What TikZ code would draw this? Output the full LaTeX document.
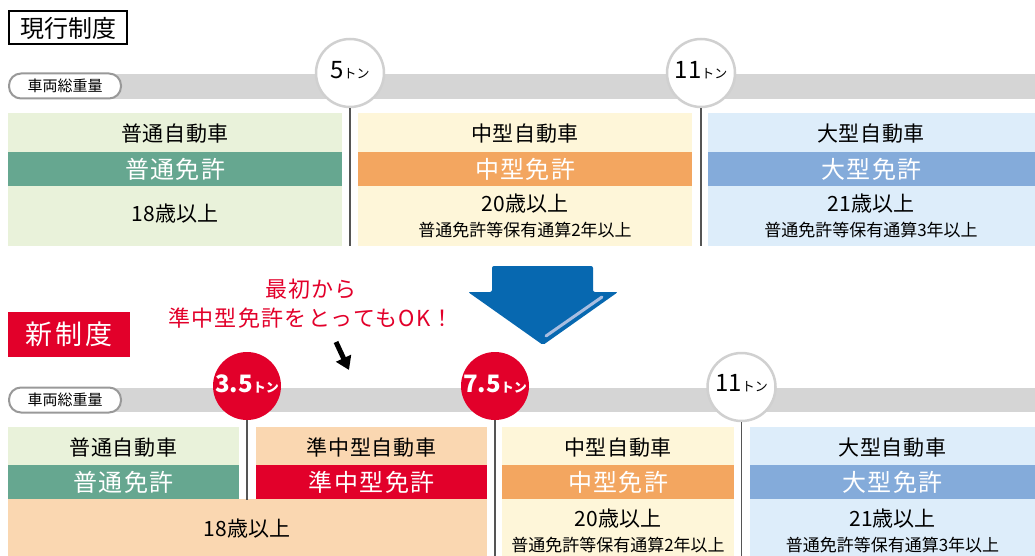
\documentclass[tikz,border=0pt]{standalone}
\usepackage{fontspec}
\setmainfont{Noto Sans CJK JP}
\usetikzlibrary{positioning,arrows.meta}

\definecolor{futsuback}{HTML}{E9F2DA}
\definecolor{futsuband}{HTML}{66A790}
\definecolor{chuback}{HTML}{FEF6D9}
\definecolor{chuband}{HTML}{F3A660}
\definecolor{daiback}{HTML}{DDEDFA}
\definecolor{daiband}{HTML}{84ABDA}
\definecolor{junback}{HTML}{FAD7B1}
\definecolor{shinred}{HTML}{E2002A}
\definecolor{bargray}{HTML}{D5D5D5}
\definecolor{ringgray}{HTML}{D0D0D0}
\definecolor{pillgray}{HTML}{999999}
\definecolor{polegray}{HTML}{555555}
\definecolor{arrowblue}{HTML}{0768B0}
\definecolor{glint}{HTML}{A8BDE0}

\tikzset{
	blk/.style={rectangle, inner sep=0, anchor=north west},
	head/.style={font=\fontsize{21}{21}\selectfont\addfontfeature{LetterSpace=3}},
	band/.style={rectangle, inner sep=0, minimum height=34pt, anchor=north west, text=white, font=\fontsize{24}{24}\selectfont\addfontfeature{LetterSpace=6}},
	age/.style={font=\fontsize{21}{21}\selectfont},
	note/.style={font=\fontsize{17}{17}\selectfont},
	ton/.style={circle, inner sep=0, minimum size=68pt, fill=white, draw=ringgray, line width=2.5pt},
	redton/.style={circle, inner sep=0, minimum size=68pt, fill=shinred},
	tonlbl/.style={inner sep=0},
	pole/.style={draw=polegray, line width=1.5pt},
	pill/.style={rectangle, rounded corners=12pt, draw=pillgray, line width=2pt, fill=white, minimum width=112pt, minimum height=25pt, inner sep=0, font=\fontsize{15}{15}\selectfont},
}
\newcommand{\tonsmall}{\fontsize{13}{13}\selectfont トン}
\newcommand{\tonbig}{\fontsize{24}{24}\selectfont}

\begin{document}
\begin{tikzpicture}[x=1pt,y=-1pt]
	\useasboundingbox (0,0) rectangle (1035,556);

	% current system
	\node[draw, line width=2pt, minimum width=118pt, minimum height=33pt, inner sep=0, font=\fontsize{24}{24}\selectfont] (genko) at (68,28) {現行制度};

	\fill[bargray] (60,74) rectangle (1035,99);
	\node[pill] (juryoA) at (65,86) {車両総重量};

	\node[blk, fill=futsuback, minimum width=334pt, minimum height=133pt] (futsuA) at (8,113) {};
	\node[head] (futsuAh) at (175,134) {普通自動車};
	\node[band, fill=futsuband, minimum width=334pt] (futsuAb) at (8,152) {普通免許};
	\node[age] (futsuAa) at (175,214) {18歳以上};

	\node[blk, fill=chuback, minimum width=334pt, minimum height=133pt] (chuA) at (358,113) {};
	\node[head] (chuAh) at (525,134) {中型自動車};
	\node[band, fill=chuband, minimum width=334pt] (chuAb) at (358,152) {中型免許};
	\node[age] (chuAa) at (525,204) {20歳以上};
	\node[note] (chuAn) at (525,230) {普通免許等保有通算2年以上};

	\node[blk, fill=daiback, minimum width=327pt, minimum height=133pt] (daiA) at (708,113) {};
	\node[head] (daiAh) at (871,134) {大型自動車};
	\node[band, fill=daiband, minimum width=327pt] (daiAb) at (708,152) {大型免許};
	\node[age] (daiAa) at (871,204) {21歳以上};
	\node[note] (daiAn) at (871,230) {普通免許等保有通算3年以上};

	\node[ton] (t5) at (350,73) {};
	\node[tonlbl] (t5l) at (350,70) {{\tonbig 5}\tonsmall};
	\node[ton] (t11A) at (701,73) {};
	\node[tonlbl] (t11Al) at (701,70) {{\tonbig 11}\tonsmall};
	\coordinate (t5e) at (350,246);
	\coordinate (t11Ae) at (701,246);
	\draw[pole] (t5) -- (t5e);
	\draw[pole] (t11A) -- (t11Ae);

	% big arrow
	\fill[arrowblue, rounded corners=2pt] (492,266) -- (593,266) -- (593,292) -- (618,292) -- (543,345) -- (468,292) -- (492,292) -- cycle;
	\draw[glint, line width=3pt, line cap=round] (602,297) -- (546,336);

	\node[text=shinred, align=center, font=\fontsize{22}{29}\selectfont\addfontfeature{LetterSpace=6}] (okmsg) at (311,304) {最初から\\準中型免許をとってもOK！};
	\coordinate (pointA) at (336,342);
	\coordinate (pointB) at (349,370);
	\draw[-{Triangle[width=16pt,length=13pt]}, line width=5pt] (pointA) -- (pointB);

	% new system
	\node[fill=shinred, text=white, minimum width=122pt, minimum height=45pt, inner sep=0, font=\fontsize{27}{27}\selectfont\addfontfeature{LetterSpace=10}] (shin) at (69,334.5) {新制度};

	\fill[bargray] (60,388) rectangle (1035,412);
	\node[pill] (juryoB) at (65,400) {車両総重量};

	\node[blk, fill=futsuback, minimum width=231pt, minimum height=73pt] (futsuB) at (8,427) {};
	\node[head] (futsuBh) at (123.5,448) {普通自動車};
	\node[band, fill=futsuband, minimum width=231pt] (futsuBb) at (8,465) {普通免許};

	\node[blk, fill=junback, minimum width=231pt, minimum height=73pt] (junB) at (256,427) {};
	\node[head] (junBh) at (371.5,448) {準中型自動車};
	\node[band, fill=shinred, minimum width=231pt] (junBb) at (256,465) {準中型免許};

	\node[blk, fill=junback, minimum width=479pt, minimum height=57pt] (ageB) at (8,499) {};
	\node[age] (ageBa) at (247,529) {18歳以上};

	\node[blk, fill=chuback, minimum width=232pt, minimum height=129pt] (chuB) at (502,427) {};
	\node[head] (chuBh) at (618,448) {中型自動車};
	\node[band, fill=chuband, minimum width=232pt] (chuBb) at (502,465) {中型免許};
	\node[age] (chuBa) at (618,519) {20歳以上};
	\node[note] (chuBn) at (618,545) {普通免許等保有通算2年以上};

	\node[blk, fill=daiback, minimum width=285pt, minimum height=129pt] (daiB) at (750,427) {};
	\node[head] (daiBh) at (892.5,448) {大型自動車};
	\node[band, fill=daiband, minimum width=285pt] (daiBb) at (750,465) {大型免許};
	\node[age] (daiBa) at (892.5,519) {21歳以上};
	\node[note] (daiBn) at (892.5,545) {普通免許等保有通算3年以上};

	\node[redton] (t35) at (247,386) {};
	\node[tonlbl, text=white, font=\bfseries] (t35l) at (247,384) {{\tonbig 3.5}\tonsmall};
	\node[redton] (t75) at (495,386) {};
	\node[tonlbl, text=white, font=\bfseries] (t75l) at (495,384) {{\tonbig 7.5}\tonsmall};
	\node[ton] (t11B) at (741.5,387) {};
	\node[tonlbl] (t11Bl) at (741.5,383) {{\tonbig 11}\tonsmall};
	\coordinate (t35e) at (247,500);
	\coordinate (t75e) at (495,556);
	\coordinate (t11Be) at (741.5,556);
	\draw[pole] (t35) -- (t35e);
	\draw[pole] (t75) -- (t75e);
	\draw[pole] (t11B) -- (t11Be);
\end{tikzpicture}
\end{document}
